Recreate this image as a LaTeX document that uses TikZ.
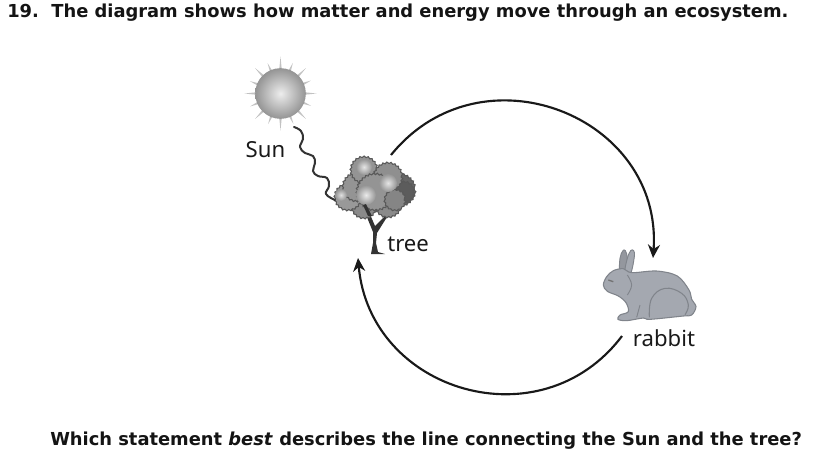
\documentclass[tikz,border=0pt]{standalone}
\usepackage{fontspec}
\setmainfont{DejaVu Sans}
\newfontfamily\labelfont{Noto Sans}
\usetikzlibrary{calc,arrows.meta,decorations.pathmorphing}
\definecolor{rabbitgray}{HTML}{A4A8B0}
\definecolor{rabbitline}{HTML}{80848B}
\tikzset{
  x=0.75pt,y=-0.75pt,
  heading/.style={font=\fontsize{13.4pt}{15pt}\selectfont\bfseries,anchor=west,inner sep=0pt,text=black!92},
  plabel/.style={font=\labelfont\fontsize{16.6pt}{18pt}\selectfont,inner sep=0pt,text=black!90},
  flow/.style={line width=1.6pt,draw=black!90,-{Stealth[length=10pt,width=9pt]}},
  wave/.style={line width=1.5pt,draw=black!80,line cap=round},
  leaf/.style={draw=black!65,line width=0.8pt,fill=black!#1,
    decorate,decoration={bumps,segment length=5.5pt,amplitude=1.4pt}},
  glow/.style={inner color=black!#1,outer color=black!42,draw=none},
}
\begin{document}
\begin{tikzpicture}
\useasboundingbox (0,0) rectangle (818,469);
\fill[white] (0,0) rectangle (818,469);

% Question wording
\node[heading] (q19) at (7,13) {19.\ \ The diagram shows how matter and energy move through an ecosystem.};
\node[heading] (qtext) at (50,441) {Which statement \textit{best} describes the line connecting the Sun and the tree?};

% Sun: tapered rays behind a radially shaded disc
\foreach \a/\l in {0/36,22/33,45/36,67/33,90/37,112/33,135/36,157/33,180/36,202/33,225/36,247/33,270/37,292/33,315/36,337/33}
  \fill[black!24] ($(280.5,93.5)+(\a-3:24)$) -- ($(280.5,93.5)+(\a:\l)$) -- ($(280.5,93.5)+(\a+3:24)$) -- cycle;
\node[circle,minimum size=38pt,inner sep=0pt,draw=none,
  inner color=black!7,outer color=black!42] (sun) at (280.5,93.5) {};
\node[plabel] (sunlabel) at (265.5,150) {Sun};

% Tree: crown of overlapping foliage clumps above a forked trunk
\fill[black!80] (362,205) -- (366,205) -- (375,226) -- (385,216) -- (387,217) -- (377,233)
  -- (376,243) -- (378,252) -- (385,254) -- (371,254) -- (373,243) -- (373,232) -- cycle;
\foreach \x/\y/\r/\c in {
    399/190/15/60, 404/192/9/64, 388/204/12/46, 364/206/11/46, 348/197/12/40,
    357/187/13/42, 364/170/12/42, 388/177/13/44, 375/192/17/42, 395/200/9/48}
  \draw[leaf=\c] (\x,\y) circle[radius=\r];
\foreach \x/\y/\r/\c in {
    364/167/8/10, 388/183/9/10, 366/195/10/8, 341/195/6/12}
  \shade[glow=\c] (\x,\y) circle[radius=\r];
\fill[black!80] (363,205) -- (366,204) -- (372,216) -- (368,216) -- cycle;
\node[plabel,anchor=west] (treelabel) at (387,244) {tree};

% Rabbit: ears behind the body, then haunch and shoulder outlines
\begin{scope}[shift={(590,230)},x=0.25pt,y=-0.25pt]
  \filldraw[fill=rabbitgray!90!black,draw=rabbitline,line width=0.7pt]
    plot[smooth cycle,tension=0.6] coordinates {(90,125) (90,85) (98,63) (106,62) (112,85) (110,130)};
  \filldraw[fill=rabbitgray,draw=rabbitline,line width=0.7pt]
    plot[smooth cycle,tension=0.6] coordinates {(105,125) (112,85) (122,62) (131,62) (133,80) (122,130)};
  \filldraw[fill=rabbitgray,draw=rabbitline,line width=0.8pt]
    plot[smooth cycle,tension=0.55] coordinates {(40,165) (50,140) (70,122) (100,116) (125,128) (200,123)
      (262,138) (297,180) (305,208) (318,230) (305,255) (280,258) (180,268) (160,264) (110,272)
      (84,268) (90,255) (115,245) (108,218) (85,198) (52,184)};
  \draw[rabbitline,line width=0.8pt]
    plot[smooth,tension=0.7] coordinates {(178,262) (185,205) (225,175) (275,190) (295,225) (285,254)};
  \draw[rabbitline,line width=0.7pt]
    plot[smooth,tension=0.7] coordinates {(112,135) (125,165) (112,195)};
  \draw[rabbitline,line width=0.7pt] (140,262) -- (150,225);
  \draw[black!55,line width=1pt] (55,150) -- (70,155);
\end{scope}
\node[plabel] (rabbitlabel) at (664,338) {rabbit};

% Cycle arrows between the tree and the rabbit
\coordinate (treeout) at (391,155);
\coordinate (rabbitin) at (653,258);
\coordinate (rabbitout) at (622,336);
\coordinate (treein) at (358,258);
\draw[flow] (treeout) to[out=51,in=86,looseness=1.3] (rabbitin);
\draw[flow] (rabbitout) to[out=-127,in=-85,looseness=1.25] (treein);

% Wavy light ray from the Sun to the tree
\coordinate (raystart) at (294,127);
\coordinate (rayend) at (335,200);
\draw[wave] plot[smooth,tension=0.7] coordinates {(raystart) (301,131) (303,139) (300,147) (305,153) (313,156)
  (315,163) (313,171) (318,176) (327,178) (329,186) (326,194) (rayend)};
\end{tikzpicture}
\end{document}
